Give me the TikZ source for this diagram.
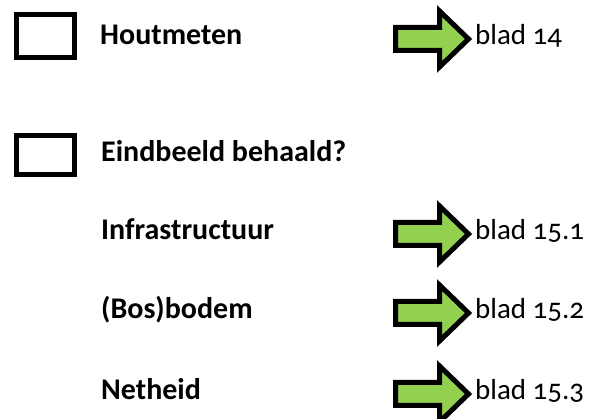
\documentclass[tikz,border=0pt]{standalone}
\usepackage{fontspec}
\setmainfont{Carlito}[Numbers=OldStyle]
\usepackage{tikz}
\definecolor{arrowgreen}{HTML}{92D050}

\begin{document}
\begin{tikzpicture}[x=1pt,y=-1pt,
  every node/.style={font=\fontsize{29}{35}\selectfont},
  task/.style={anchor=base west,inner sep=0pt,font=\fontsize{30}{36}\selectfont\bfseries},
  sheet/.style={anchor=base west,inner sep=0pt},
  tickbox/.style={draw,line width=5pt},
  pointer/.style={draw,line width=5pt,fill=arrowgreen,line join=miter}]
  \useasboundingbox (0,0) rectangle (590,419);
  \draw[tickbox] (16.5,14.5) rectangle (74.5,57.5);
  \draw[tickbox] (16.5,135.5) rectangle (74.5,174.5);
  \node[task] (houtmeten) at (100,45) {Houtmeten};
  \node[task] (eindbeeld) at (101,162) {Eindbeeld behaald?};
  \node[task] (infra) at (101,240) {Infrastructuur};
  \node[task] (bodem) at (101,319) {(Bos)bodem};
  \node[task] (netheid) at (101,400) {Netheid};
  \foreach \c in {39,234,313,394}
    \draw[pointer] (395.5,\c-11.5) -- (439.5,\c-11.5) -- (439.5,\c-28)
      -- (468.5,\c) -- (439.5,\c+28) -- (439.5,\c+11.5) -- (395.5,\c+11.5) -- cycle;
  \node[sheet] (blad14) at (475,45) {blad 14};
  \node[sheet] (blad151) at (475,240) {blad 15.1};
  \node[sheet] (blad152) at (475,319) {blad 15.2};
  \node[sheet] (blad153) at (475,400) {blad 15.3};
\end{tikzpicture}
\end{document}
